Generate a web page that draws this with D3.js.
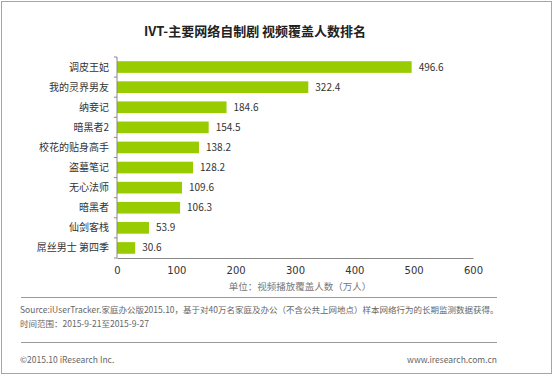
<!DOCTYPE html>
<html>
<head>
<meta charset="utf-8">
<script src="https://cdn.jsdelivr.net/npm/d3@7"></script>
<style>
  body { margin: 0; background: #fff; }
  text { font-family: "Noto Sans CJK SC", "DejaVu Sans", sans-serif; }
</style>
</head>
<body>
<div id="chart"></div>
<script>
// data
const shows = ["调皮王妃", "我的灵界男友", "纳妾记", "暗黑者2", "校花的贴身高手", "盗墓笔记", "无心法师", "暗黑者", "仙剑客栈", "屌丝男士 第四季"];
const viewers = [496.6, 322.4, 184.6, 154.5, 138.2, 128.2, 109.6, 106.3, 53.9, 30.6];
const xTicks = [0, 100, 200, 300, 400, 500, 600];

const W = 554, H = 376;
const svg = d3.select("#chart").append("svg")
  .attr("width", W).attr("height", H);

// outer frame
svg.append("rect")
  .attr("x", 1.5).attr("y", 1.5)
  .attr("width", 550).attr("height", 372)
  .attr("fill", "none").attr("stroke", "#a6a6a6");

// title
svg.append("text")
  .attr("x", 255).attr("y", 36)
  .attr("text-anchor", "middle")
  .style("font-size", "13px").style("font-weight", "bold")
  .attr("fill", "#222")
  .text("IVT-主要网络自制剧 视频覆盖人数排名");

const plotL = 117, plotR = 473, plotT = 57, plotB = 258;

const x = d3.scaleLinear().domain([0, 600]).range([plotL, plotR]);
const y = d3.scaleBand().domain(shows).range([plotT, plotB]).paddingInner(0.42).paddingOuter(0.21);

// bars
svg.selectAll(".bar")
  .data(shows)
  .enter().append("rect")
  .attr("class", "bar")
  .attr("x", x(0))
  .attr("y", d => y(d))
  .attr("width", (d, i) => x(viewers[i]) - x(0))
  .attr("height", y.bandwidth())
  .attr("fill", "#99cc00");

// value labels
svg.selectAll(".val")
  .data(shows)
  .enter().append("text")
  .attr("class", "val")
  .attr("x", (d, i) => x(viewers[i]) + 7)
  .attr("y", d => y(d) + y.bandwidth() / 2)
  .attr("dy", "0.35em")
  .style("font-size", "10px")
  .attr("fill", "#333")
  .text((d, i) => viewers[i].toFixed(1));

// y axis: line with small ticks at band boundaries
svg.append("line")
  .attr("x1", plotL).attr("x2", plotL)
  .attr("y1", plotT).attr("y2", plotB)
  .attr("stroke", "#888");
const step = (plotB - plotT) / shows.length;
svg.selectAll(".ytick")
  .data(d3.range(shows.length + 1))
  .enter().append("line")
  .attr("x1", plotL - 3).attr("x2", plotL)
  .attr("y1", d => plotT + d * step).attr("y2", d => plotT + d * step)
  .attr("stroke", "#888");

svg.selectAll(".cat")
  .data(shows)
  .enter().append("text")
  .attr("x", plotL - 8)
  .attr("y", d => y(d) + y.bandwidth() / 2)
  .attr("dy", "0.35em")
  .attr("text-anchor", "end")
  .style("font-size", "10px")
  .attr("fill", "#333")
  .text(d => d);

// x axis
const xAxis = svg.append("g")
  .attr("transform", "translate(0," + plotB + ")")
  .call(d3.axisBottom(x).tickValues(xTicks).tickSize(0).tickPadding(9));
xAxis.select(".domain").attr("stroke", "#888");
xAxis.selectAll("text")
  .style("font-size", "10px")
  .attr("fill", "#333")
  .style("font-family", "'DejaVu Sans', sans-serif");

// unit
svg.append("text")
  .attr("x", 300).attr("y", 290)
  .attr("text-anchor", "middle")
  .style("font-size", "9.5px")
  .attr("fill", "#777")
  .text("单位：视频播放覆盖人数（万人）");

// source + footer
svg.append("line").attr("x1", 21).attr("x2", 497).attr("y1", 297.5).attr("y2", 297.5)
  .attr("stroke", "#999");
svg.append("text").attr("x", 20).attr("y", 313)
  .style("font-size", "8.5px").attr("fill", "#666")
  .text("Source:iUserTracker.家庭办公版2015.10，基于对40万名家庭及办公（不含公共上网地点）样本网络行为的长期监测数据获得。");
svg.append("text").attr("x", 20).attr("y", 327)
  .style("font-size", "8.5px").attr("fill", "#666")
  .text("时间范围：2015-9-21至2015-9-27");
svg.append("line").attr("x1", 21).attr("x2", 497).attr("y1", 342.5).attr("y2", 342.5)
  .attr("stroke", "#999");
svg.append("text").attr("x", 20).attr("y", 363)
  .style("font-size", "8.5px").attr("fill", "#666")
  .text("©2015.10 iResearch Inc.");
svg.append("text").attr("x", 497).attr("y", 363)
  .attr("text-anchor", "end")
  .style("font-size", "8.5px").attr("fill", "#666")
  .text("www.iresearch.com.cn");
</script>
</body>
</html>
